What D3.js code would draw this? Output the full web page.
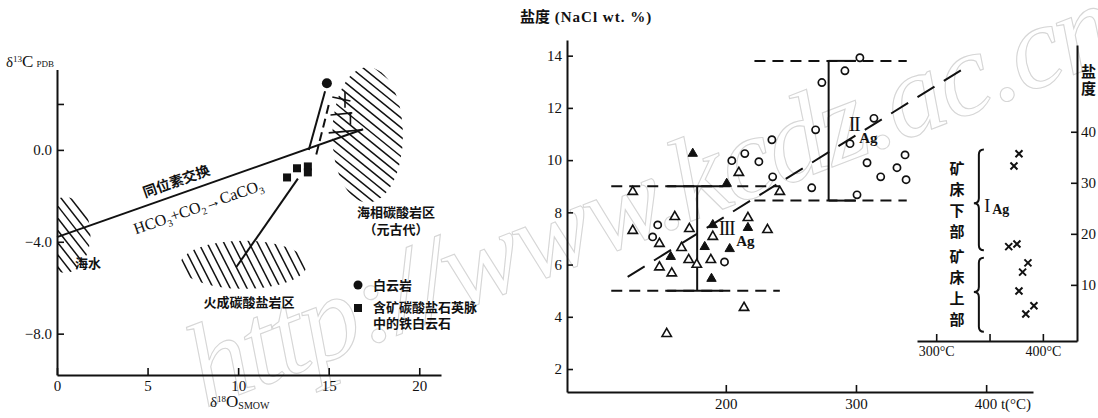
<!DOCTYPE html>
<html>
<head>
<meta charset="utf-8">
<script src="https://cdn.jsdelivr.net/npm/d3@7"></script>
<style>
  body { margin: 0; background: #fff; }
  svg { display: block; }
  text { font-family: "Liberation Serif", "DejaVu Serif", serif; fill: #111; }
  .cjk { font-family: "Noto Sans CJK SC", sans-serif; font-weight: 700; }
</style>
</head>
<body>
<svg id="chart" width="1098" height="418"></svg>
<script>
// ---------- left panel data: δ18O(SMOW) vs δ13C(PDB) ----------
const isoXTicks = [0, 5, 10, 15, 20];
const isoYTicks = [2, 0, -4, -8];
const isoYLabels = ['', '0.0', '\u22124.0', '\u22128.0'];

const dolomitePts = [[14.9, 2.9]];
const ankeritePts = [[12.7, -1.2], [13.25, -0.8], [13.85, -0.72], [13.85, -0.98]];

const exchangeLine = [[0, -3.8], [16.9, 0.9]];
const dolomiteLine = [[14.8, 2.55], [13.9, 0.0]];
const dolomiteDash = [[15.0, 1.95], [14.3, -0.25]];
const igneousLine = [[13.3, -1.25], [9.9, -5.1]];
const stepMarks = [
  [[15.2, 2.3], [16.2, 2.13]],
  [[15.1, 1.52], [16.3, 1.61]],
  [[15.0, 0.74], [16.85, 0.87]],
  [[15.9, 2.52], [15.9, 1.83]],
  [[16.2, 1.65], [16.2, 1.09]]
];
// hatched fields (centre / radii in data units)
const hatchZones = [
  { cx: 17.15, cy: 0.65, rx: 1.95, ry: 2.95, angle: 39 },
  { cx: 0.45, cy: -3.7, rx: 1.4, ry: 1.65, angle: 52 },
  { cx: 10.3, cy: -5.0, rx: 3.5, ry: 1.05, angle: 63 }
];

// ---------- right panel data: homogenisation temperature vs salinity ----------
const tempTicks = [200, 300, 400];
const tempLabels = ['200', '300', '400 t(°C)'];
const salTicks = [2, 4, 6, 8, 10, 12, 14];

const solidTriangles = [[174.6, 10.25], [200.7, 9.1], [190, 7.52], [217, 7.41], [183.8, 6.68],
  [203, 6.6], [157.7, 6.3], [189, 5.46]];
const openTriangles = [[128.5, 8.79], [210, 9.52], [241.5, 8.79], [160.8, 7.83], [217, 7.79],
  [128.5, 7.3], [172, 7.37], [232, 7.33], [190, 7.07], [149, 6.8], [166, 6.64], [171.5, 6.18],
  [177.7, 6.0], [188.5, 6.18], [149, 5.9], [158.5, 5.67], [214, 4.35], [154.6, 3.35]];
const openCircles = [[147.7, 7.52], [143.8, 7.06], [199, 6.1], [204.6, 9.98], [214.6, 10.25],
  [225.4, 9.94], [235.4, 10.78], [236, 9.36], [266, 8.94], [300.8, 8.67], [269, 11.16],
  [295.4, 10.63], [303, 13.92], [291.5, 13.42], [273.8, 12.97], [313.8, 11.6], [308.5, 9.9],
  [337.7, 10.2], [331.5, 9.71], [319, 9.36], [338.5, 9.25]];

const trendLine = [[124.6, 5.53], [383.8, 13.54]];
const rangeBars = [
  { num: 'III', t: 178, lo: 5.0, hi: 9.0, from: 112, to: 241.5, solidFrom: 155, solidTo: 198, lt: 200.5, ls: 7.4, at: 215, as: 6.9 },
  { num: 'II', t: 279, lo: 8.45, hi: 13.8, from: 222, to: 339, solidFrom: 279, solidTo: 300, lt: 298.5, ls: 11.4, at: 309.5, as: 10.85 }
];

// ---------- inset data ----------
const insetTempTicks = [300, 350, 400];
const insetTempLabels = ['300°C', '', '400°C'];
const insetSalTicks = [10, 20, 30, 40];
const crosses = [[377.6, 35.7], [372.9, 33.3], [368, 17.5], [375.7, 18.0], [381, 12.5],
  [386, 14.3], [377.6, 8.8], [384, 4.3], [391.6, 5.9]];
const braces = [
  { chars: ['矿', '床', '下', '部'], top: 36.5, bottom: 16.8, mid: 26, charMid: 26.6, tag: true },
  { chars: ['矿', '床', '上', '部'], top: 15.3, bottom: 0.8, mid: 8.6, charMid: 9.2, tag: false }
];

const svg = d3.select('#chart');
const ink = '#111';

// watermark of the scanned source (faint outline, runs off the right edge like the scan)
svg.append('text')
  .attr('transform', 'translate(205,408) rotate(-21)')
  .attr('textLength', 985)
  .attr('lengthAdjust', 'spacing')
  .style('font-size', '118px')
  .style('font-style', 'italic')
  .style('fill', 'none')
  .style('stroke', '#d6d6d6')
  .style('stroke-width', 1.1)
  .text('http://www.kcdz.ac.cn');

function styleAxis(g, size) {
  g.select('.domain').attr('stroke', ink).attr('stroke-width', 2);
  g.selectAll('.tick line').attr('stroke', ink).attr('stroke-width', 1.6);
  g.selectAll('.tick text').attr('fill', ink).style('font-size', size + 'px')
    .style('font-family', '"Liberation Serif", serif');
}

// ======================= LEFT PANEL =======================
const lx = d3.scaleLinear().domain([0, 21.2]).range([57, 441]);
const ly = d3.scaleLinear().domain([-9.8, 3.5]).range([375, 69.5]);
const left = svg.append('g');
const lineL = d3.line().x(d => lx(d[0])).y(d => ly(d[1]));

svg.append('clipPath').attr('id', 'axisClip')
  .append('rect').attr('x', 58).attr('y', 40).attr('width', 400).attr('height', 335);

// hatched fields
hatchZones.forEach((z, i) => {
  const cx = lx(z.cx), cy = ly(z.cy);
  const rx = lx(z.cx + z.rx) - cx, ry = cy - ly(z.cy + z.ry);
  const clipId = 'hz' + i;
  svg.append('clipPath').attr('id', clipId)
    .append('ellipse').attr('cx', cx).attr('cy', cy).attr('rx', rx).attr('ry', ry);
  const outer = left.append('g').attr('clip-path', 'url(#axisClip)');
  const g = outer.append('g').attr('clip-path', `url(#${clipId})`);
  const a = z.angle * Math.PI / 180;
  const dx = Math.cos(a), dy = Math.sin(a), nx = -Math.sin(a), ny = Math.cos(a);
  const R = Math.max(rx, ry) + 4;
  for (let k = -R; k <= R; k += 7.5) {
    const px = cx + nx * k, py = cy + ny * k;
    g.append('line')
      .attr('x1', px - dx * R).attr('y1', py - dy * R)
      .attr('x2', px + dx * R).attr('y2', py + dy * R)
      .attr('stroke', ink).attr('stroke-width', 1.5);
  }
});

// lines
[exchangeLine, dolomiteLine, igneousLine].forEach(l => {
  left.append('path').attr('d', lineL(l)).attr('fill', 'none')
    .attr('stroke', ink).attr('stroke-width', 2);
});
left.append('path').attr('d', lineL(dolomiteDash)).attr('fill', 'none')
  .attr('stroke', ink).attr('stroke-width', 2).attr('stroke-dasharray', '9,5');
stepMarks.forEach(l => {
  left.append('path').attr('d', lineL(l)).attr('fill', 'none')
    .attr('stroke', ink).attr('stroke-width', 1.6);
});

// points
left.selectAll('.dol').data(dolomitePts).enter().append('circle')
  .attr('cx', d => lx(d[0])).attr('cy', d => ly(d[1])).attr('r', 5).attr('fill', ink);
left.selectAll('.ank').data(ankeritePts).enter().append('rect')
  .attr('x', d => lx(d[0]) - 4).attr('y', d => ly(d[1]) - 4)
  .attr('width', 8).attr('height', 8).attr('fill', ink);

// axes
const lxAxis = left.append('g').attr('transform', `translate(0,${ly(-9.8)})`)
  .call(d3.axisBottom(lx).tickValues(isoXTicks).tickSize(-7).tickSizeOuter(0).tickPadding(5));
styleAxis(lxAxis, 15);
const lyAxis = left.append('g').attr('transform', `translate(${lx(0)},0)`)
  .call(d3.axisLeft(ly).tickValues(isoYTicks).tickSize(-7).tickSizeOuter(0).tickPadding(5)
    .tickFormat((d, i) => isoYLabels[i]));
styleAxis(lyAxis, 15);

// axis titles
const ylab = left.append('text').attr('x', 6).attr('y', 67).style('font-size', '15px');
ylab.append('tspan').text('δ');
ylab.append('tspan').attr('dy', -5).style('font-size', '9px').text('13');
ylab.append('tspan').attr('dy', 5).style('font-size', '17px').text('C');
ylab.append('tspan').attr('dx', 3).style('font-size', '9px').text('PDB');
const xlab = left.append('text').attr('x', 210).attr('y', 407).style('font-size', '15px');
xlab.append('tspan').text('δ');
xlab.append('tspan').attr('dy', -5).style('font-size', '9px').text('18');
xlab.append('tspan').attr('dy', 5).style('font-size', '17px').text('O');
xlab.append('tspan').attr('dy', 2).style('font-size', '10px').text('SMOW');

// annotations along the exchange line
const exA = Math.atan2(ly(exchangeLine[1][1]) - ly(exchangeLine[0][1]),
  lx(exchangeLine[1][0]) - lx(exchangeLine[0][0])) * 180 / Math.PI;
left.append('text').attr('class', 'cjk')
  .attr('transform', `translate(178,186) rotate(${exA})`)
  .attr('text-anchor', 'middle').style('font-size', '14px').text('同位素交换');
const eq = left.append('text').attr('transform', `translate(200,212) rotate(${exA})`)
  .attr('text-anchor', 'middle').style('font-size', '16px');
eq.append('tspan').text('HCO');
eq.append('tspan').attr('dy', 4).style('font-size', '10px').text('3');
eq.append('tspan').attr('dy', -4).text('+CO');
eq.append('tspan').attr('dy', 4).style('font-size', '10px').text('2');
eq.append('tspan').attr('dy', -4).text('→CaCO');
eq.append('tspan').attr('dy', 4).style('font-size', '10px').text('3');

const cjkNotes = [
  ['海水', 75, 268, 'start'],
  ['海相碳酸岩区', 396, 217, 'middle'],
  ['（元古代）', 396, 234, 'middle'],
  ['火成碳酸盐岩区', 249, 307, 'middle'],
  ['白云岩', 373, 290, 'start'],
  ['含矿碳酸盐石英脉', 373, 312, 'start'],
  ['中的铁白云石', 373, 328, 'start']
];
left.selectAll('.note').data(cjkNotes).enter().append('text').attr('class', 'cjk')
  .attr('x', d => d[1]).attr('y', d => d[2]).attr('text-anchor', d => d[3])
  .style('font-size', '13px').text(d => d[0]);
left.append('circle').attr('cx', 358).attr('cy', 285).attr('r', 4.5).attr('fill', ink);
left.append('rect').attr('x', 354).attr('y', 304).attr('width', 8).attr('height', 8).attr('fill', ink);

// ======================= RIGHT PANEL =======================
const rx = d3.scaleLinear().domain([78, 436]).range([567, 1033]);
const ry = d3.scaleLinear().domain([1.12, 14.6]).range([392, 40]);
const right = svg.append('g');
const lineR = d3.line().x(d => rx(d[0])).y(d => ry(d[1]));

right.append('path').attr('d', lineR(trendLine)).attr('fill', 'none')
  .attr('stroke', ink).attr('stroke-width', 2).attr('stroke-dasharray', '20,11');

rangeBars.forEach(b => {
  [b.lo, b.hi].forEach(s => {
    right.append('path').attr('d', lineR([[b.from, s], [b.to, s]])).attr('fill', 'none')
      .attr('stroke', ink).attr('stroke-width', 2).attr('stroke-dasharray', '11,7');
    right.append('path').attr('d', lineR([[b.solidFrom, s], [b.solidTo, s]])).attr('fill', 'none')
      .attr('stroke', ink).attr('stroke-width', 2);
  });
  right.append('path').attr('d', lineR([[b.t, b.lo], [b.t, b.hi]])).attr('fill', 'none')
    .attr('stroke', ink).attr('stroke-width', 2);
  right.append('text').attr('x', rx(b.lt)).attr('y', ry(b.ls) + 7).attr('text-anchor', 'middle')
    .style('font-size', '20px').style('letter-spacing', '-1.5px').text(b.num);
  right.append('text').attr('x', rx(b.at)).attr('y', ry(b.as) + 5).attr('text-anchor', 'middle')
    .style('font-size', '15px').style('font-weight', 'bold').text('Ag');
});

const tri = d3.symbol().type(d3.symbolTriangle).size(38);
right.selectAll('.otri').data(openTriangles).enter().append('path')
  .attr('d', tri).attr('transform', d => `translate(${rx(d[0])},${ry(d[1])})`)
  .attr('fill', '#fff').attr('stroke', ink).attr('stroke-width', 1.6);
right.selectAll('.stri').data(solidTriangles).enter().append('path')
  .attr('d', tri).attr('transform', d => `translate(${rx(d[0])},${ry(d[1])})`)
  .attr('fill', ink).attr('stroke', ink).attr('stroke-width', 1);
right.selectAll('.ocir').data(openCircles).enter().append('circle')
  .attr('cx', d => rx(d[0])).attr('cy', d => ry(d[1])).attr('r', 3.6)
  .attr('fill', '#fff').attr('stroke', ink).attr('stroke-width', 1.7);

const rxAxis = right.append('g').attr('transform', `translate(0,${ry(1.12)})`)
  .call(d3.axisBottom(rx).tickValues(tempTicks).tickSize(-7).tickSizeOuter(0).tickPadding(6)
    .tickFormat((d, i) => tempLabels[i]));
styleAxis(rxAxis, 15);
rxAxis.selectAll('.tick text').filter((d, i) => i === 2).attr('text-anchor', 'start').attr('dx', -12);
const ryAxis = right.append('g').attr('transform', `translate(${rx(78)},0)`)
  .call(d3.axisLeft(ry).tickValues(salTicks).tickSize(-6).tickSizeOuter(0).tickPadding(5));
styleAxis(ryAxis, 15);

const title = right.append('text').attr('x', 520).attr('y', 22).style('font-size', '15px');
title.append('tspan').attr('class', 'cjk').text('盐度');
title.append('tspan').style('font-weight', 'bold').style('letter-spacing', '1px').text(' (NaCl  wt. %)');

// ======================= INSET =======================
const ix = d3.scaleLinear().domain([282, 432]).range([917, 1077]);
const iy = d3.scaleLinear().domain([-1, 57]).range([341, 45]);
const inset = svg.append('g');

const ixAxis = inset.append('g').attr('transform', `translate(0,${iy(-1)})`)
  .call(d3.axisBottom(ix).tickValues(insetTempTicks).tickSize(-7).tickSizeOuter(0).tickPadding(5)
    .tickFormat((d, i) => insetTempLabels[i]));
styleAxis(ixAxis, 14);
const iyAxis = inset.append('g').attr('transform', `translate(${ix(432)},0)`)
  .call(d3.axisRight(iy).tickValues(insetSalTicks).tickSize(-6).tickSizeOuter(0).tickPadding(4));
styleAxis(iyAxis, 15);
['盐', '度'].forEach((c, i) => {
  inset.append('text').attr('class', 'cjk').attr('x', 1081).attr('y', 77 + i * 17)
    .style('font-size', '15px').text(c);
});

crosses.forEach(d => {
  const x = ix(d[0]), y = iy(d[1]);
  inset.append('path').attr('d', `M${x - 3.5},${y - 3.5}L${x + 3.5},${y + 3.5}M${x - 3.5},${y + 3.5}L${x + 3.5},${y - 3.5}`)
    .attr('stroke', ink).attr('stroke-width', 2);
});

braces.forEach(b => {
  const x = ix(340), y0 = iy(b.top), y1 = iy(b.bottom), ym = iy(b.mid), w = 5, r = 5;
  inset.append('path')
    .attr('d', `M${x + w},${y0} Q${x},${y0} ${x},${y0 + r} L${x},${ym - r} Q${x},${ym} ${x - w},${ym}` +
      ` Q${x},${ym} ${x},${ym + r} L${x},${y1 - r} Q${x},${y1} ${x + w},${y1}`)
    .attr('fill', 'none').attr('stroke', ink).attr('stroke-width', 2);
  const cy = iy(b.charMid);
  b.chars.forEach((c, i) => {
    inset.append('text').attr('class', 'cjk').attr('x', ix(319.5)).attr('y', cy + (i - 1.5) * 21 + 5)
      .attr('text-anchor', 'middle').style('font-size', '15px').text(c);
  });
  if (b.tag) {
    const t = inset.append('text').attr('x', ix(345)).attr('y', ym + 9).style('font-size', '18px');
    t.append('tspan').text('I');
    t.append('tspan').attr('dx', 2).attr('dy', 2).style('font-size', '14px').style('font-weight', 'bold').text('Ag');
  }
});
</script>
</body>
</html>
